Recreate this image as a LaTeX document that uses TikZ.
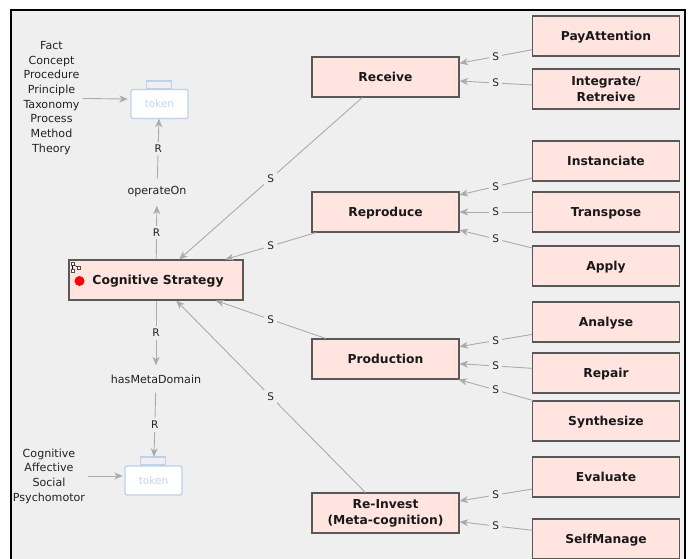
\documentclass[tikz,border=0pt]{standalone}
\usepackage{fontspec}
\setmainfont{DejaVu Sans}
\usetikzlibrary{arrows.meta}
\definecolor{bgcol}{HTML}{EFEFEF}
\definecolor{boxfill}{HTML}{FFE4E0}
\definecolor{boxline}{HTML}{585858}
\definecolor{linkcol}{HTML}{ABABAB}
\definecolor{tokline}{HTML}{BDD2EA}
\definecolor{toktext}{HTML}{C2D5EC}
\definecolor{txtcol}{HTML}{222222}
\tikzset{
  concept/.style={draw=boxline,fill=boxfill,line width=1.05pt,minimum width=147pt,minimum height=40pt,inner sep=0pt,align=center,text=black!90,
    font=\fontsize{12.3}{16.3}\selectfont\bfseries},
  oneline/.style={text height=12pt,text depth=2.5pt},
  plainlabel/.style={inner sep=0pt,align=center,text=txtcol,font=\fontsize{11.1}{14.7}\selectfont},
  rellabel/.style={plainlabel,minimum width=90pt,minimum height=27pt},
  edgelabel/.style={midway,fill=bgcol,inner sep=3pt,text=txtcol,font=\fontsize{10.5}{12}\selectfont},
  link/.style={draw=linkcol,line width=.9pt,-{Stealth[length=8.5pt,width=7pt,inset=2.5pt]}},
  tokenbody/.style={draw=tokline,fill=white,line width=1.3pt,rounded corners=2pt,minimum width=57pt,minimum height=29pt,inner sep=0pt,text=toktext,font=\fontsize{10.5}{12}\selectfont},
  tokentab/.style={draw=tokline,line width=1.1pt,minimum width=25pt,minimum height=8pt,inner sep=0pt},
  tokenzone/.style={minimum width=57pt,minimum height=38pt,inner sep=0pt},
  iconbit/.style={draw=black!70,fill=white,line width=.4pt,minimum width=3pt,minimum height=3pt,inner sep=0pt},
}
\begin{document}
\begin{tikzpicture}[x=1pt,y=-1pt]
\useasboundingbox (0,0) rectangle (690,558);
\clip (0,0) rectangle (690,558);
\draw[fill=bgcol,draw=black,line width=1.6pt] (11,10) rectangle (685,575);

% concepts
\node[concept,oneline,minimum width=174pt] (cs) at (156,280) {\hspace{4pt}\fontsize{12.4}{15}\selectfont Cognitive Strategy};
\node[concept,oneline] (receive) at (385.5,77) {Receive};
\node[concept,oneline] (reproduce) at (385.5,212) {Reproduce};
\node[concept,oneline] (production) at (385.5,359) {Production};
\node[concept] (reinvest) at (385.5,513) {Re-Invest\\(Meta-cognition)};
\node[concept,oneline] (pay) at (606,36) {PayAttention};
\node[concept] (integrate) at (606,89) {Integrate/\\Retreive};
\node[concept,oneline] (instanciate) at (606,161) {Instanciate};
\node[concept,oneline] (transpose) at (606,212) {Transpose};
\node[concept,oneline] (apply) at (606,266) {Apply};
\node[concept,oneline] (analyse) at (606,322) {Analyse};
\node[concept,oneline] (repair) at (606,373) {Repair};
\node[concept,oneline] (synth) at (606,421) {Synthesize};
\node[concept,oneline] (evaluate) at (606,477) {Evaluate};
\node[concept,oneline] (self) at (606,539) {SelfManage};

% marker and icon on the main concept
\node[circle,fill=red,minimum size=10pt,inner sep=0pt] (dot) at (79.5,281) {};
\node[iconbit] (ica) at (72.5,264) {};
\node[iconbit] (icb) at (72.5,271) {};
\node[iconbit] (icc) at (79,268) {};
\draw[line width=.4pt] (ica) -- (icb);
\draw[line width=.4pt] (ica) -- (icc);

% tokens
\node[tokenzone] (tokA) at (159.5,99.5) {};
\node[tokentab] (tabA) at (159,85) {};
\node[tokenbody] (bodyA) at (159.5,104) {token};
\node[tokenzone] (tokB) at (153.5,476) {};
\node[tokentab] (tabB) at (153,461) {};
\node[tokenbody] (bodyB) at (153.5,480.5) {token};

% relations and lists
\node[rellabel] (operate) at (157,192) {operateOn};
\node[rellabel] (meta) at (156,379) {hasMetaDomain};
\node[plainlabel] (listA) at (51.5,98) {Fact\\Concept\\Procedure\\Principle\\Taxonomy\\Process\\Method\\Theory};
\node[plainlabel] (listB) at (49,476) {Cognitive\\Affective\\Social\\Psychomotor};

% connectors
\draw[link] (cs) -- node[edgelabel]{R} (operate);
\draw[link] (operate) -- node[edgelabel]{R} (tokA);
\draw[link] (cs) -- node[edgelabel]{R} (meta);
\draw[link] (meta) -- node[edgelabel]{R} (tokB);
\draw[link,shorten <=3pt,shorten >=3pt] (listA) -- (tokA);
\draw[link,shorten <=3pt,shorten >=2pt] (listB) -- (tokB);
\draw[link] (receive) -- node[edgelabel]{S} (cs);
\draw[link] (reproduce) -- node[edgelabel]{S} (cs);
\draw[link] (production) -- node[edgelabel]{S} (cs);
\draw[link] (reinvest) -- node[edgelabel]{S} (cs);
\draw[link] (pay) -- node[edgelabel]{S} (receive);
\draw[link] (integrate) -- node[edgelabel]{S} (receive);
\draw[link] (instanciate) -- node[edgelabel]{S} (reproduce);
\draw[link] (transpose) -- node[edgelabel]{S} (reproduce);
\draw[link] (apply) -- node[edgelabel]{S} (reproduce);
\draw[link] (analyse) -- node[edgelabel]{S} (production);
\draw[link] (repair) -- node[edgelabel]{S} (production);
\draw[link] (synth) -- node[edgelabel]{S} (production);
\draw[link] (evaluate) -- node[edgelabel]{S} (reinvest);
\draw[link] (self) -- node[edgelabel]{S} (reinvest);
\end{tikzpicture}
\end{document}
